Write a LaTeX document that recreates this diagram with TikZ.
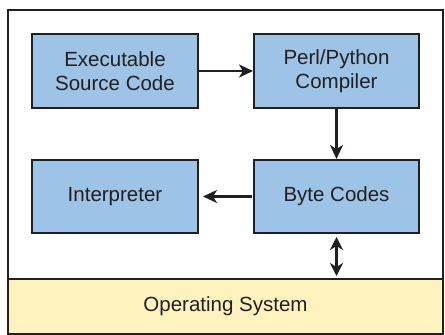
\documentclass[tikz,border=0pt]{standalone}
\usepackage{fontspec}
\setmainfont{Liberation Sans}
\usetikzlibrary{arrows.meta}
\definecolor{boxblue}{HTML}{9DC3E6}
\definecolor{osyellow}{HTML}{FEF3BE}
\definecolor{ink}{HTML}{231F20}
\begin{document}
\begin{tikzpicture}[x=1pt,y=-1pt,
  blk/.style={draw=ink,line width=2pt,fill=boxblue,inner sep=0pt,font=\fontsize{20.5}{24.5}\selectfont,align=center,text=ink},
  conn/.style={draw=ink,line width=2.2pt,-{Stealth[length=14pt,width=13pt,inset=4pt]}},
  dconn/.style={draw=ink,line width=2.2pt,{Stealth[length=13pt,width=13pt,inset=4pt]}-{Stealth[length=13pt,width=13pt,inset=4pt]}}]
\useasboundingbox (0,0) rectangle (445,335);
\draw[ink,line width=2pt,fill=white] (8,9.5) rectangle (443,333.5);
\node[draw=ink,line width=2pt,fill=osyellow,minimum width=435pt,minimum height=54.5pt,inner sep=0pt,font=\fontsize{20.5}{24.5}\selectfont,text=ink] (os) at (225.5,306.25) {Operating System};
\node[blk,minimum width=166pt,minimum height=74pt] (src) at (115,71) {Executable\\Source Code};
\node[blk,minimum width=165pt,minimum height=74pt] (comp) at (336.5,71) {Perl/Python\\Compiler};
\node[blk,minimum width=166pt,minimum height=73pt] (interp) at (115,196.5) {Interpreter};
\node[blk,minimum width=165pt,minimum height=73pt] (byte) at (336.5,196.5) {Byte Codes};
\draw[conn] (src) -- (comp);
\draw[conn] (comp) -- (byte);
\draw[conn] ([xshift=-1pt]byte.west) -- ([xshift=4pt]interp.east);
\draw[dconn] ([yshift=-3pt]byte.south) -- ([yshift=2pt]os.north -| byte.south);
\end{tikzpicture}
\end{document}
